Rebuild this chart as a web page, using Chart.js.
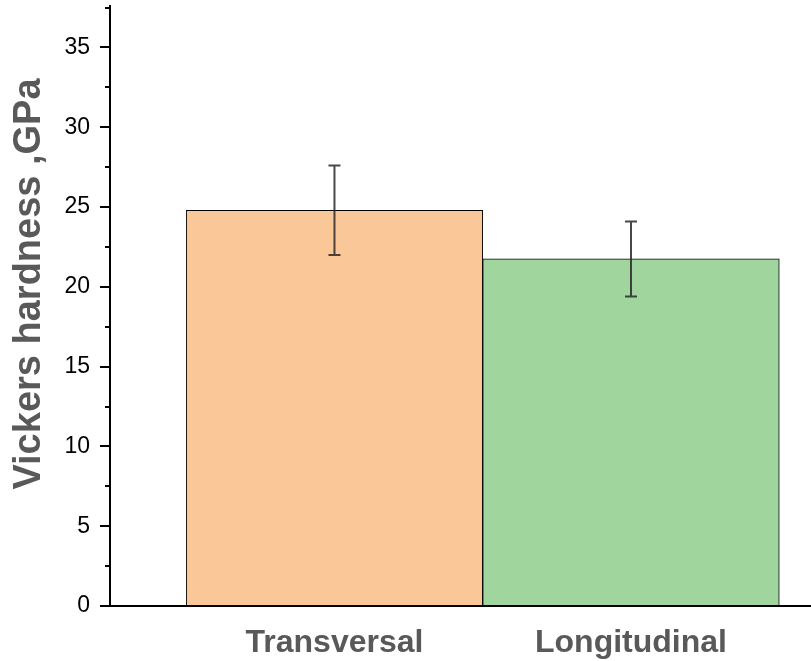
<!DOCTYPE html>
<html>
<head>
<meta charset="utf-8">
<title>Vickers hardness</title>
<script src="https://cdn.jsdelivr.net/npm/chart.js@4.4.1/dist/chart.umd.min.js"></script>
<style>
  html, body { margin: 0; padding: 0; background: #fff; }
  #chart { display: block; }
</style>
</head>
<body>
<canvas id="chart" width="811" height="661"></canvas>
<script>
// samples and measured hardness (GPa)
const categories = ['Transversal', 'Longitudinal'];
const positions = [1, 2];
const hardness = [24.8, 21.75];
const errUpper = [27.6, 24.1];
const errLower = [22.0, 19.4];
const barColors = ['#fac898', '#a0d69d'];

const yMajorTicks = [0, 5, 10, 15, 20, 25, 30, 35];
const yMinorTicks = [2.5, 7.5, 12.5, 17.5, 22.5, 27.5, 32.5, 37.5];
const yTitle = 'Vickers hardness ,GPa';

const FONT = 'Arial, "Liberation Sans", sans-serif';

// whiskers, the small unlabelled y ticks and the rotated axis title
const extrasPlugin = {
  id: 'extras',
  afterDatasetsDraw(chart) {
    const { ctx, scales: { x, y } } = chart;
    ctx.save();
    ctx.strokeStyle = 'rgba(40,40,40,0.85)';
    ctx.lineWidth = 2;
    positions.forEach((p, i) => {
      const px = x.getPixelForValue(p);
      const top = y.getPixelForValue(errUpper[i]);
      const bot = y.getPixelForValue(errLower[i]);
      ctx.beginPath();
      ctx.moveTo(px, top);
      ctx.lineTo(px, bot);
      ctx.moveTo(px - 6, top);
      ctx.lineTo(px + 6, top);
      ctx.moveTo(px - 6, bot);
      ctx.lineTo(px + 6, bot);
      ctx.stroke();
    });
    ctx.restore();
  },
  afterDraw(chart) {
    const { ctx, chartArea, scales: { y } } = chart;
    ctx.save();
    ctx.strokeStyle = '#000';
    ctx.lineWidth = 2;
    yMinorTicks.forEach(v => {
      const py = Math.round(y.getPixelForValue(v));
      ctx.beginPath();
      ctx.moveTo(chartArea.left - 5, py);
      ctx.lineTo(chartArea.left, py);
      ctx.stroke();
    });

    ctx.translate(30, 284);
    ctx.rotate(-Math.PI / 2);
    ctx.fillStyle = '#595959';
    ctx.font = 'bold 38px ' + FONT;
    ctx.textAlign = 'center';
    ctx.textBaseline = 'middle';
    ctx.fillText(yTitle, 0, 0);
    ctx.restore();
  }
};

new Chart(document.getElementById('chart'), {
  type: 'bar',
  data: {
    datasets: [{
      data: positions.map((p, i) => ({ x: p, y: hardness[i] })),
      backgroundColor: barColors,
      borderColor: '#000',
      borderWidth: 1,
      borderSkipped: 'bottom',
      barPercentage: 1,
      categoryPercentage: 1
    }]
  },
  options: {
    responsive: false,
    animation: false,
    layout: { padding: { top: 6, right: 0, left: 0, bottom: 0 } },
    plugins: {
      legend: { display: false },
      tooltip: { enabled: false }
    },
    scales: {
      x: {
        type: 'linear',
        min: 0.243,
        max: 2.607,
        offset: false,
        afterBuildTicks: (scale) => {
          scale.ticks = positions.map(v => ({ value: v }));
        },
        afterFit: (scale) => { scale.height = 55; },
        ticks: {
          callback: (v) => categories[positions.indexOf(v)] || '',
          color: '#595959',
          font: { family: FONT, size: 32, weight: 'bold' },
          padding: 18,
          autoSkip: false,
          maxRotation: 0
        },
        grid: { display: false, drawTicks: false },
        border: { color: '#000', width: 2 }
      },
      y: {
        min: 0,
        max: 37.6,
        afterBuildTicks: (scale) => {
          scale.ticks = yMajorTicks.map(v => ({ value: v }));
        },
        afterFit: (scale) => {
          scale.width = 110;
          scale.paddingTop = 0;
          scale.paddingBottom = 0;
        },
        ticks: {
          color: '#000',
          font: { family: FONT, size: 23 },
          padding: 10
        },
        grid: {
          drawOnChartArea: false,
          drawTicks: true,
          tickLength: 10,
          tickColor: '#000',
          lineWidth: 2
        },
        border: { color: '#000', width: 2 }
      }
    }
  },
  plugins: [extrasPlugin]
});
</script>
</body>
</html>
